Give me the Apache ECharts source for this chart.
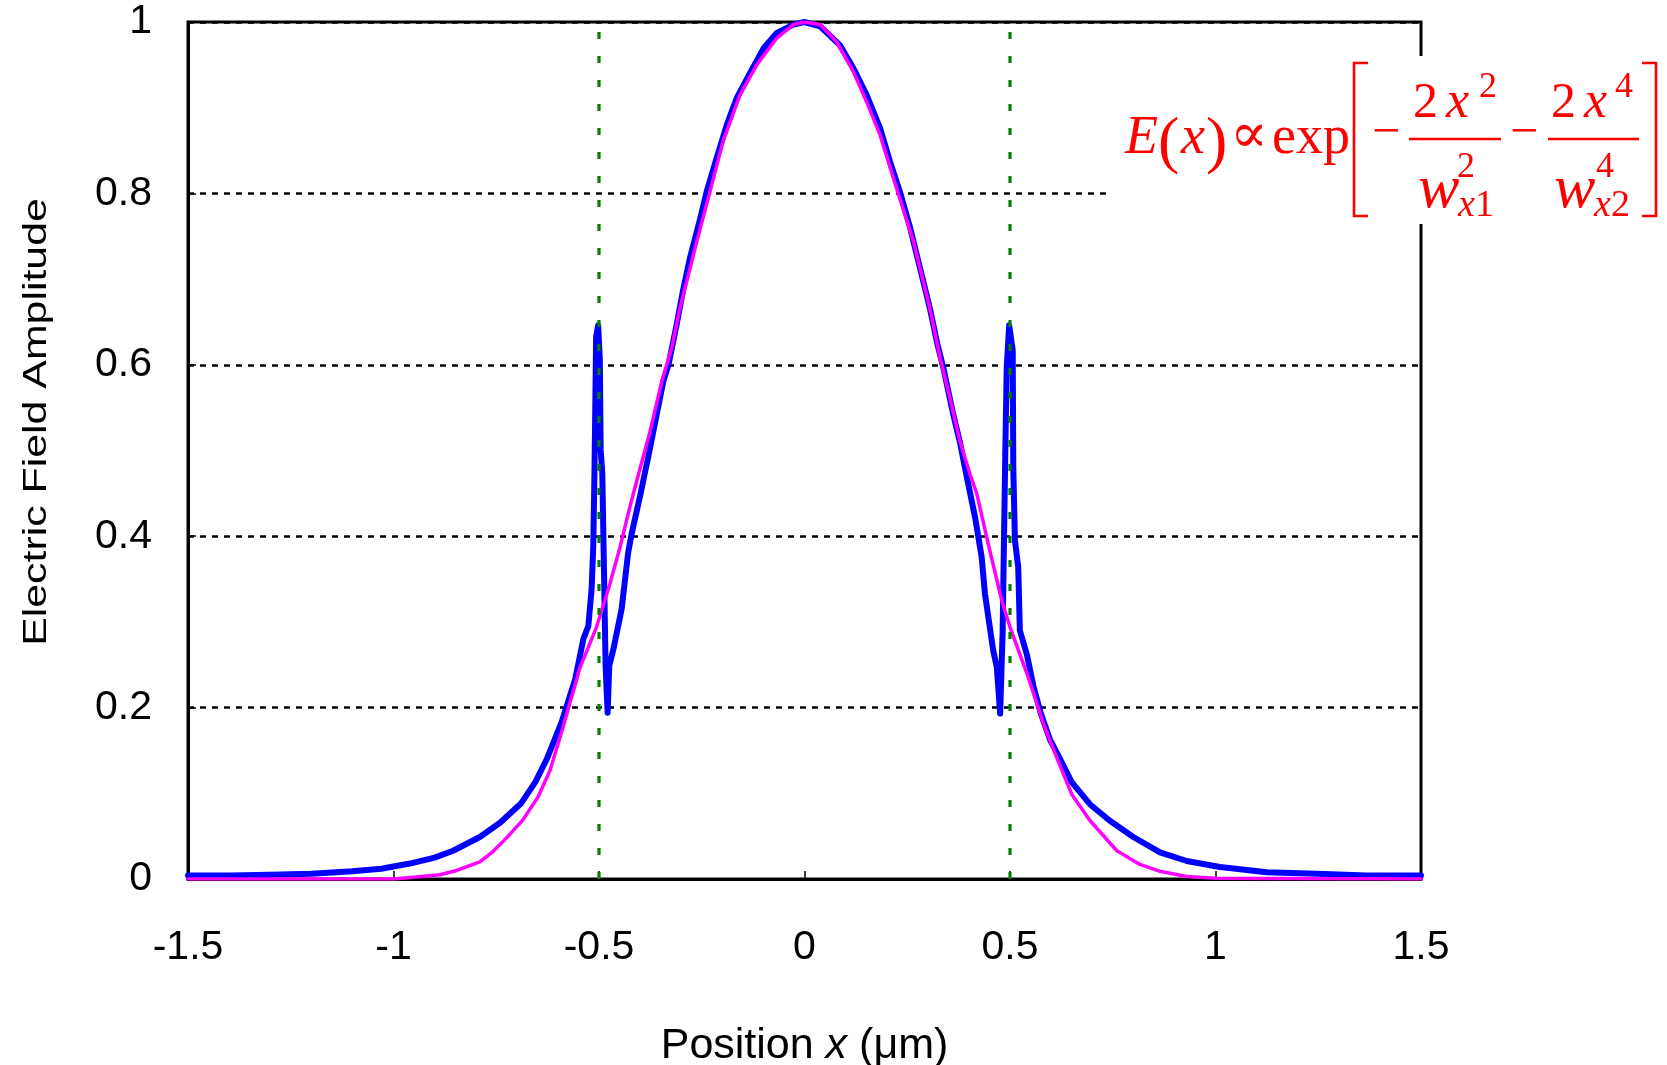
<!DOCTYPE html>
<html><head><meta charset="utf-8">
<script src="https://cdn.jsdelivr.net/npm/echarts@6/dist/echarts.min.js"></script>
<style>html,body{margin:0;padding:0;background:#fff}#c{width:1667px;height:1065px}</style>
</head><body><div id="c"></div>
<script>
// ---- data ----
const xTickLabels = ['-1.5', '-1', '-0.5', '0', '0.5', '1', '1.5'];
const yTickLabels = ['0', '0.2', '0.4', '0.6', '0.8', '1'];
const boundaryX = [-0.5, 0.5];

// simulated field (blue)
const simX = [-1.5,-1.4,-1.3,-1.2,-1.1,-1.03,-0.96,-0.9,-0.855,-0.79,-0.74,-0.69,-0.655,-0.627,-0.591,-0.558,-0.538,-0.526,-0.518,-0.514,-0.511,-0.510,-0.507,-0.502,-0.498,-0.496,-0.492,-0.488,-0.484,-0.479,-0.475,-0.465,-0.445,-0.429,-0.420,-0.400,-0.380,-0.368,-0.3435,-0.331,-0.311,-0.295,-0.279,-0.254,-0.238,-0.214,-0.189,-0.165,-0.133,-0.100,-0.068,-0.027,0,0.038,0.086,0.119,0.151,0.184,0.208,0.232,0.257,0.281,0.305,0.322,0.338,0.362,0.378,0.395,0.415,0.431,0.439,0.459,0.468,0.476,0.482,0.488,0.492,0.498,0.5066,0.508,0.512,0.520,0.524,0.541,0.557,0.575,0.597,0.625,0.650,0.695,0.743,0.800,0.865,0.930,1.011,1.125,1.246,1.368,1.5];
const simY = [0.004,0.004,0.005,0.006,0.009,0.012,0.018,0.025,0.033,0.049,0.066,0.088,0.113,0.140,0.183,0.233,0.280,0.295,0.338,0.388,0.474,0.513,0.633,0.646,0.606,0.501,0.474,0.365,0.249,0.194,0.249,0.268,0.315,0.381,0.404,0.447,0.493,0.522,0.581,0.600,0.647,0.688,0.724,0.770,0.802,0.841,0.880,0.911,0.940,0.969,0.987,0.997,1.0,0.995,0.973,0.946,0.915,0.876,0.837,0.802,0.760,0.713,0.666,0.627,0.596,0.542,0.510,0.469,0.422,0.376,0.333,0.267,0.247,0.193,0.287,0.480,0.597,0.646,0.617,0.480,0.395,0.364,0.290,0.262,0.225,0.193,0.163,0.137,0.113,0.087,0.068,0.049,0.031,0.021,0.014,0.008,0.006,0.004,0.004];

// super-Gaussian fit (magenta)
const fitX = [-1.5,-1.0,-0.952,-0.887,-0.846,-0.79,-0.758,-0.725,-0.685,-0.648,-0.619,-0.587,-0.546,-0.506,-0.473,-0.449,-0.425,-0.404,-0.376,-0.347,-0.323,-0.303,-0.262,-0.230,-0.198,-0.157,-0.116,-0.068,-0.027,0,0.038,0.078,0.119,0.151,0.184,0.224,0.265,0.305,0.330,0.354,0.378,0.403,0.419,0.451,0.480,0.500,0.541,0.581,0.605,0.650,0.695,0.760,0.816,0.865,0.930,1.0,1.5];
const fitY = [0,0,0.002,0.005,0.010,0.020,0.032,0.048,0.069,0.096,0.127,0.178,0.247,0.294,0.345,0.387,0.434,0.472,0.522,0.581,0.620,0.666,0.744,0.802,0.861,0.915,0.950,0.981,0.997,1.0,0.997,0.977,0.942,0.907,0.868,0.806,0.744,0.666,0.608,0.561,0.511,0.472,0.450,0.383,0.325,0.294,0.240,0.182,0.152,0.099,0.068,0.033,0.017,0.009,0.003,0.001,0];

const pairs = (xs, ys) => xs.map((x, i) => [x, ys[i]]);

// ---- formula (annotation) ----
const RED = '#ff0000';
const SERIF = '"Liberation Serif","DejaVu Serif",serif';
function tx(str, x, base, size, italic) {
  return { type: 'text', x: x, y: base - 0.3375 * size, z: 102,
    style: { text: str, font: (italic ? 'italic ' : '') + size + 'px ' + SERIF,
      fill: RED, align: 'left', verticalAlign: 'middle' } };
}
function ln(x1, y1, x2, y2, w) {
  return { type: 'line', z: 102, shape: { x1, y1, x2, y2 }, style: { stroke: RED, lineWidth: w } };
}
function pl(pts) {
  return { type: 'polyline', z: 102, shape: { points: pts }, style: { stroke: RED, lineWidth: 2.6, fill: null } };
}
const BAR = 139;
const formula = [
  { type: 'rect', z: 100, shape: { x: 1106, y: 56, width: 561, height: 168 }, style: { fill: '#fff' } },
  tx('E', 1125, 157, 54, true),
  tx('(', 1158, 166, 64, false),
  tx('x', 1181, 157, 54, true),
  tx(')', 1206, 166, 64, false),
  tx('\u221D', 1230, 156, 56, false),
  tx('exp', 1272, 157, 54, false),
  pl([[1368, 63], [1354, 63], [1354, 216], [1368, 216]]),
  tx('\u2212', 1372, BAR + 12, 50, false),
  ln(1409, BAR, 1501, BAR, 2.5),
  tx('2', 1413, 121, 50, false), tx('x', 1446, 121, 52, true), tx('2', 1479, 100, 36, false),
  tx('2', 1457, 180, 36, false), tx('w', 1418, 212, 62, true), tx('x', 1458, 219, 38, true), tx('1', 1475, 219, 38, false),
  tx('\u2212', 1510, BAR + 12, 50, false),
  ln(1548, BAR, 1639, BAR, 2.5),
  tx('2', 1551, 121, 50, false), tx('x', 1584, 121, 52, true), tx('4', 1615, 100, 36, false),
  tx('4', 1596, 180, 36, false), tx('w', 1554, 212, 62, true), tx('x', 1594, 219, 38, true), tx('2', 1611, 219, 38, false),
  pl([[1642, 63], [1656, 63], [1656, 216], [1642, 216]])
];

const SANS = '"Liberation Sans", Arial, sans-serif';
const yTitle = { type: 'text', x: 37, y: 422, rotation: Math.PI / 2, scaleX: 1.26, z: 50,
  style: { text: 'Electric Field Amplitude', font: '34px ' + SANS, fill: '#000', align: 'center', verticalAlign: 'middle' } };

const chart = echarts.init(document.getElementById('c'), null, { renderer: 'canvas' });
const boundarySeries = boundaryX.map(bx => ({
  type: 'line', data: [[bx, 0], [bx, 1]], symbol: 'none', silent: true, z: 4,
  lineStyle: { color: '#008000', width: 3.2, type: [7, 17] }
}));
chart.setOption({
  animation: false,
  backgroundColor: '#fff',
  grid: { left: 188, right: 246, top: 22, bottom: 186, show: true, borderColor: '#000', borderWidth: 3, outerBoundsMode: 'none' },
  xAxis: {
    type: 'value', min: -1.5, max: 1.5, interval: 0.5,
    axisLine: { show: true, onZero: false, lineStyle: { color: '#000', width: 3 } },
    axisTick: { show: true, inside: true, length: 8, lineStyle: { color: '#000', width: 1.5 } },
    axisLabel: { margin: 48, fontSize: 41, fontFamily: SANS, color: '#000',
      formatter: v => xTickLabels[Math.round((v + 1.5) / 0.5)] },
    splitLine: { show: false },
    name: '{a|Position }{b|x}{a| (\u03BCm)}', nameLocation: 'middle', nameGap: 146,
    nameTextStyle: { rich: { a: { fontSize: 43, fontFamily: SANS, color: '#000' }, b: { fontSize: 43, fontFamily: SANS, fontStyle: 'italic', color: '#000' } } }
  },
  yAxis: {
    type: 'value', min: 0, max: 1, interval: 0.2,
    axisLine: { show: true, onZero: false, lineStyle: { color: '#000', width: 3 } },
    axisTick: { show: true, inside: true, length: 8, lineStyle: { color: '#000', width: 1.5 } },
    axisLabel: { margin: 36, fontSize: 41, fontFamily: SANS, color: '#000',
      formatter: v => yTickLabels[Math.round(v / 0.2)] },
    splitLine: { show: true, lineStyle: { color: '#000', width: 2.5, type: [6, 6] } }
  },
  series: [
    { type: 'line', name: 'simulation', data: pairs(simX, simY), symbol: 'none', z: 2,
      lineStyle: { color: '#0000ff', width: 6, cap: 'round', join: 'round' } },
    { type: 'line', name: 'fit', data: pairs(fitX, fitY), symbol: 'none', z: 3,
      lineStyle: { color: '#ff00ff', width: 3.5, cap: 'round', join: 'round' } },
    ...boundarySeries
  ],
  graphic: [yTitle, ...formula]
});
</script></body></html>
